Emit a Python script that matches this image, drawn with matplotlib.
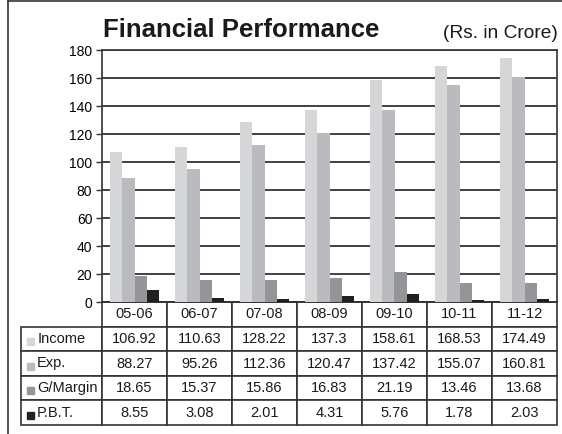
import matplotlib
matplotlib.use("Agg")
import matplotlib.pyplot as plt
import numpy as np
from matplotlib.patches import Rectangle

plt.rcParams["font.family"] = ["Liberation Sans", "DejaVu Sans"]

years   = ["05-06", "06-07", "07-08", "08-09", "09-10", "10-11", "11-12"]
series  = ["Income", "Exp.", "G/Margin", "P.B.T."]
income  = [106.92, 110.63, 128.22, 137.3, 158.61, 168.53, 174.49]
expense = [88.27, 95.26, 112.36, 120.47, 137.42, 155.07, 160.81]
margin  = [18.65, 15.37, 15.86, 16.83, 21.19, 13.46, 13.68]
pbt     = [8.55, 3.08, 2.01, 4.31, 5.76, 1.78, 2.03]
colors  = ["#d5d6d8", "#babbbe", "#939598", "#231f20"]

W, H = 562, 434
fig = plt.figure(figsize=(W / 100, H / 100), dpi=100)

# plot area in pixels: left 102, right 557, top 50, bottom 302
L, R, T, B = 102, 557, 50, 302
ax = fig.add_axes([L / W, 1 - B / H, (R - L) / W, (B - T) / H])

x = np.arange(len(years))
bw = 0.19
for k, vals in enumerate([income, expense, margin, pbt]):
    ax.bar(x + (k - 1.5) * bw, vals, width=bw, color=colors[k], zorder=3)

ax.set_xlim(-0.5, len(years) - 0.5)
ax.set_ylim(0, 180)
ax.set_yticks(range(0, 181, 20))
ax.yaxis.grid(True, color="#333333", linewidth=1.3, zorder=1)
ax.set_axisbelow(True)
ax.set_xticks([])
ax.tick_params(axis="y", length=4, width=1, color="#333333", labelsize=10, pad=3)
for s in ax.spines.values():
    s.set_color("#333333")
    s.set_linewidth(1.2)

# data table under the plot
rows = [income, expense, margin, pbt]
cell_text = [[series[i]] + [f"{v:g}" for v in rows[i]] for i in range(4)]
col_labels = [""] + years
tbl_left = (21 - L) / (R - L)
tbl_w = (R - 21) / (R - L)
tbl_h = (425 - B) / (B - T)
tbl = ax.table(cellText=cell_text, colLabels=col_labels,
               colWidths=[81] + [65] * len(years),
               cellLoc="center", bbox=[tbl_left, -tbl_h, tbl_w, tbl_h])
tbl.auto_set_font_size(False)
tbl.set_fontsize(10.5)
for (r, c), cell in tbl.get_celld().items():
    cell.set_edgecolor("#333333")
    cell.set_linewidth(1.2)
    cell.get_text().set_color("#1a1a1a")
    if r == 0 and c == 0:
        cell.visible_edges = ""
    if c == 0 and r > 0:
        cell.get_text().set_ha("left")
        cell.PAD = 0.2

fig.canvas.draw()
# legend squares inside the label cells
for i in range(4):
    cell = tbl[i + 1, 0]
    cx, cy = cell.get_x(), cell.get_y()
    ch = cell.get_height()
    sq = Rectangle((cx + 6 / (R - L), cy + ch * 0.24), 7 / (R - L), 7 / (B - T),
                   transform=ax.transAxes, color=colors[i], clip_on=False, zorder=5)
    ax.add_patch(sq)

fig.text(103 / W, 1 - 30 / H, "Financial Performance", fontsize=18.5,
         fontweight="bold", va="center", ha="left", color="#1a1a1a")
fig.text(558 / W, 1 - 34 / H, "(Rs. in Crore)", fontsize=13.8,
         va="center", ha="right", color="#1a1a1a")

# outer frame (left and top edges)
fig.add_artist(plt.Line2D([8 / W, 8 / W], [0, 1 - 1 / H], color="#333333", lw=1.2))
fig.add_artist(plt.Line2D([8 / W, 1], [1 - 1 / H, 1 - 1 / H], color="#333333", lw=1.2))

fig.savefig("out.png", dpi=100)
